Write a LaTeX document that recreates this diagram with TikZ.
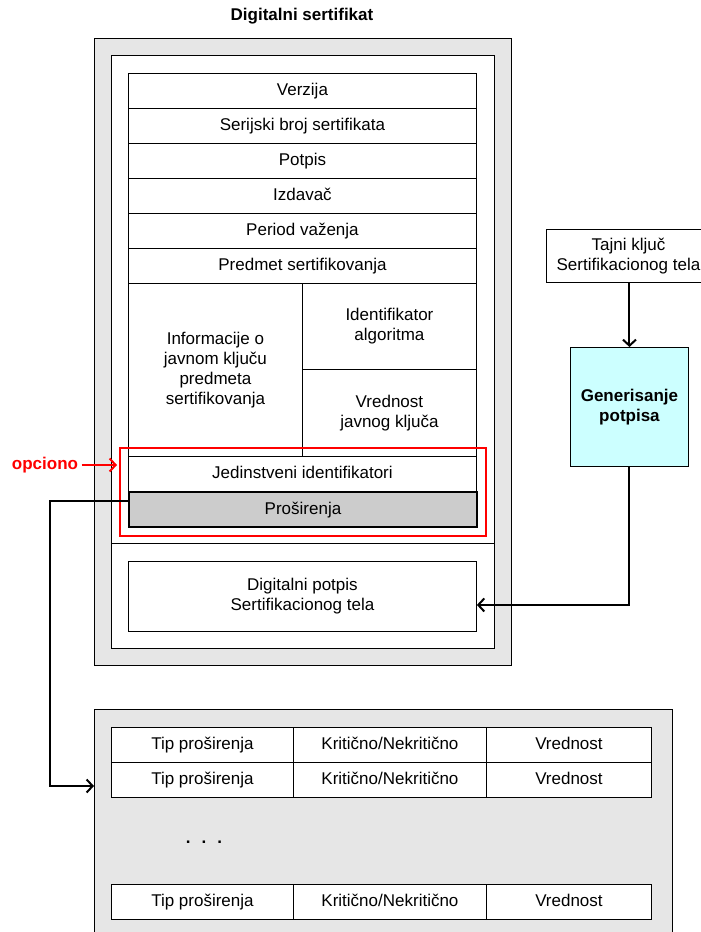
\documentclass[tikz,border=0pt]{standalone}
\usepackage{fontspec}
\setmainfont{Liberation Sans}
\usetikzlibrary{arrows.meta,calc}
\definecolor{bggray}{HTML}{E6E6E6}
\definecolor{extgray}{HTML}{CCCCCC}
\definecolor{gencyan}{HTML}{CCFFFF}
\begin{document}
\begin{tikzpicture}[yscale=-1,x=1pt,y=1pt,
    txt/.style={font=\fontsize{17}{20}\selectfont},
    cell/.style={txt,draw,line width=0.9pt,fill=white,anchor=north west,inner sep=0pt,align=center},
    row/.style={cell,text height=12.5pt,text depth=3.5pt},
    conn/.style={line width=2pt,-{Straight Barb[length=6pt,width=13pt,line width=2pt]}}]
    \useasboundingbox (0,0) rectangle (701,932);

    \node[txt,font=\fontsize{17}{20}\selectfont\bfseries] (title) at (302,16) {Digitalni sertifikat};

    \draw[fill=bggray,line width=1pt] (94,38) rectangle (511,665);
    \draw[fill=white,line width=1pt] (111,55) rectangle (494,648);
    \draw[line width=0.9pt] (111,543) -- (494,543);

    \node[row,minimum width=348,minimum height=35] (ver) at (128,73) {Verzija};
    \node[row,minimum width=348,minimum height=35] (ser) at (128,108) {Serijski broj sertifikata};
    \node[row,minimum width=348,minimum height=35] (pot) at (128,143) {Potpis};
    \node[row,minimum width=348,minimum height=35] (izd) at (128,178) {Izdavač};
    \node[row,minimum width=348,minimum height=35] (per) at (128,213) {Period važenja};
    \node[row,minimum width=348,minimum height=35] (pre) at (128,248) {Predmet sertifikovanja};
    \node[cell,minimum width=174,minimum height=173] (inf) at (128,283) {Informacije o\\javnom ključu\\predmeta\\sertifikovanja};
    \node[cell,minimum width=174,minimum height=86] (alg) at (302,283) {Identifikator\\algoritma};
    \node[cell,minimum width=174,minimum height=87] (vkl) at (302,369) {Vrednost\\javnog ključa};
    \node[row,minimum width=348,minimum height=35] (jed) at (128,456) {Jedinstveni identifikatori};
    \node[row,line width=2pt,fill=extgray,minimum width=348,minimum height=35] (pro) at (128,491) {Proširenja};

    \node[draw=red,line width=2pt,anchor=north west,minimum width=366,minimum height=88] (opt) at (119,447) {};
    \node[txt,text=red,font=\fontsize{17}{20}\selectfont\bfseries] (opc) at (45,465) {opciono};
    \draw[red,conn] (opc.east) -- ([xshift=-2pt]opc.east -| opt.west);

    \node[cell,minimum width=348,minimum height=70] (sig) at (128,561) {Digitalni potpis\\Sertifikacionog tela};

    \node[cell,minimum width=164,minimum height=53] (taj) at (546,229) {Tajni ključ\\Sertifikacionog tela};
    \node[cell,fill=gencyan,font=\fontsize{17}{20}\selectfont\bfseries,minimum width=118,minimum height=119] (gen) at (570,347) {Generisanje\\potpisa};

    \draw[conn] (gen.north |- taj.south) -- (gen.north);
    \draw[conn] (gen.south) |- ($(sig.north east)!0.62!(sig.south east)$);

    \node[draw,fill=bggray,line width=1pt,anchor=north west,minimum width=578,minimum height=235] (ext) at (94,709) {};
    \foreach \y/\n in {727/1,762/2,884/3} {
        \node[row,minimum width=182,minimum height=35] (tip\n) at (111,\y) {Tip proširenja};
        \node[row,minimum width=193,minimum height=35] (kri\n) at (293,\y) {Kritično/Nekritično};
        \node[row,minimum width=165,minimum height=35] (vre\n) at (486,\y) {Vrednost};
    }
    \node[txt,font=\fontsize{17}{20}\selectfont\bfseries] (dots) at (204,842) {.\hspace{11pt}.\hspace{11pt}.};

    \draw[conn] ($(pro.north west)!0.26!(pro.south west)$) -- ++(-78,0) |- ($(ext.north west)+(0,77)$);
\end{tikzpicture}
\end{document}
